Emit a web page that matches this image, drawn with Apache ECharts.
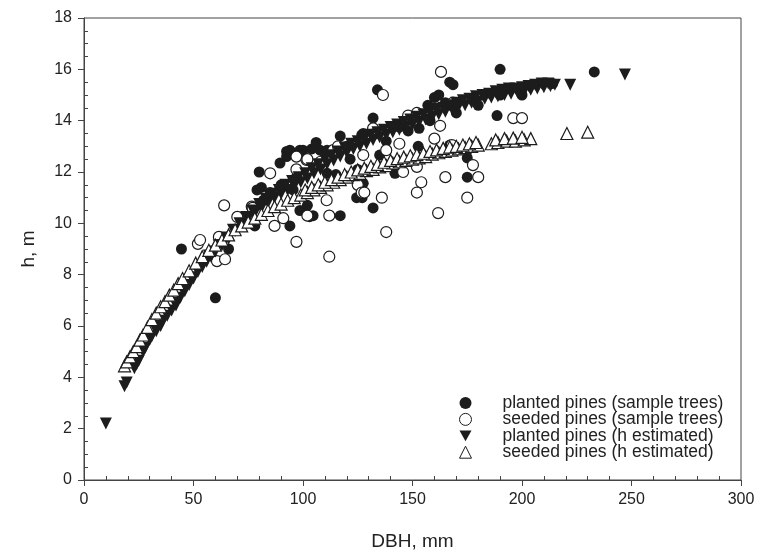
<!DOCTYPE html>
<html>
<head>
<meta charset="utf-8">
<script src="https://cdn.jsdelivr.net/npm/echarts@6/dist/echarts.min.js"></script>
<style>html,body{margin:0;padding:0;background:#fff}#c{width:759px;height:557px}</style>
</head>
<body>
<div id="c"></div>
<script>
var seriesNames = ['planted pines (sample trees)', 'seeded pines (sample trees)', 'planted pines (h estimated)', 'seeded pines (h estimated)'];
var xTicks = [0, 50, 100, 150, 200, 250, 300];
var yTicks = [0, 2, 4, 6, 8, 10, 12, 14, 16, 18];

var plantedSample = [
[44.5,9.0],[60,7.1],[66,9.0],[78,9.9],[80,12.0],[81,11.4],[79,11.3],[82,10.9],[89.5,12.35],[89.5,11.4],
[90,11.5],[92.5,12.8],[92.5,12.6],[94,12.85],[94,9.9],[95.5,11.3],[98.6,12.85],[98.6,10.5],[100,12.85],[102,10.7],
[103,10.26],[104,12.9],[104.6,10.3],[106,13.15],[107.8,12.85],[111,12.85],[111,11.95],[117,13.4],[117,10.3],[121.5,12.5],
[124.5,11.0],[125,12.1],[126.8,13.44],[127.5,13.5],[127.5,11.56],[127,11.0],[132,14.1],[132,10.6],[134,15.2],[135,12.66],
[142,11.95],[144,13.75],[152.6,13.0],[153,13.7],[160,14.9],[165,14.7],[167,15.5],[167,13.05],[168.5,15.4],[175,12.55],
[175,11.8],[188.6,14.2],[190,16.0],[190,15.0],[214,15.45],[233,15.9],[85,11.2],[97,11.8],[108,12.3],[115,11.9],
[120,13.0],[138,13.2],[148,13.6],[158,14.0],[170,14.3],[180,14.6],[200,15.0],[162,15.0],[157,14.6]
];
var seededSample = [
[52,9.2],[53,9.35],[61.6,9.47],[60.7,8.53],[64.4,8.6],[64,10.7],[70,10.25],[76.6,10.65],[77,10.6],[85,11.95],
[87,9.9],[91,10.2],[97,12.6],[97,12.1],[97,9.28],[101.6,12.47],[102,12.5],[102,10.3],[108,12.4],[110.8,10.9],
[112,10.3],[112,8.7],[113.8,12.85],[116,13.0],[125,11.5],[126.8,11.2],[127.5,12.66],[128,11.2],[132,13.7],[133,13.5],
[136,11.0],[136.5,15.0],[138,12.85],[138,9.66],[144,13.1],[145.7,12.0],[148,14.2],[152,14.3],[152,12.2],[152,11.2],
[154,11.6],[160,13.3],[161.7,10.4],[162.6,13.8],[163,15.9],[165,11.8],[168,13.05],[168.5,14.7],[175,11.0],[177.6,12.27],
[180,11.8],[196,14.1],[200,14.1]
];
var plantedEstimated = [
[10,2.2],[18.5,3.65],[19.5,3.8],[23,4.35],[24,4.5],[25,4.65],[27,5.0],[28,5.15],[30,5.45],[31,5.6],
[33,5.8],[35,6.0],[36,6.2],[38,6.4],[40,6.6],[42,6.8],[44,7.1],[46,7.35],[48,7.6],[50,7.85],
[52,8.1],[54,8.3],[56,8.5],[58,8.7],[60,8.9],[63,9.15],[66,9.4],[69,9.7],[72,9.95],[75,10.2],
[78,10.4],[81,10.6],[84,10.8],[87,11.0],[90,11.15],[93,11.3],[96,11.45],[99,11.6],[102,11.75],[105,11.95],
[108,12.1],[111,12.3],[114,12.45],[117,12.6],[120,12.75],[123,12.9],[126,13.0],[129,13.1],[132,13.25],[135,13.35],
[138,13.45],[141,13.55],[144,13.65],[147,13.75],[150,13.85],[153,13.95],[156,14.05],[159,14.15],[162,14.25],[165,14.35],
[168,14.45],[171,14.55],[174,14.6],[177,14.7],[180,14.75],[183,14.85],[186,14.9],[189,14.95],[192,15.0],[195,15.05],
[198,15.1],[201,15.15],[204,15.2],[207,15.25],[210,15.3],[213,15.35],[215,15.4],[222,15.4],[247,15.8],
[41.5,6.9],[45,7.4],[49,7.9],[53,8.35],[57,8.75],[61.5,9.15],[65,9.45],[68,9.75],[71,10.0],[74,10.25],
[77,10.5],[80,10.75],[83,10.95],[86,11.15],[89,11.3],[92,11.5],[95,11.65],[98,11.8],[101,11.95],[104,12.15],
[107,12.3],[110,12.5],[113,12.65],[116,12.8],[119,12.95],[122,13.1],[125,13.2],[128,13.3],[131,13.45],[134,13.55],
[137,13.65],[140,13.75],[143,13.85],[146,13.95],[149,14.05],[152,14.15],[155,14.25],[158,14.35],[161,14.45],[164,14.5],
[167,14.6],[170,14.7],[173,14.8],[176,14.85],[179,14.95],[182,15.0],[185,15.05],[188,15.15],[191,15.2],[194,15.25],
[197,15.25],[200,15.3],[203,15.35],[206,15.4],[209,15.45],[212,15.45]
];
var seededEstimated = [
[18.5,4.45],[19.5,4.6],[21,4.8],[22.5,5.0],[24,5.2],[25.5,5.45],[27,5.65],[29,5.95],[31,6.25],[33,6.5],
[35,6.75],[37,6.95],[39,7.2],[41,7.4],[43,7.65],[45,7.85],[48,8.15],[51,8.45],[54,8.7],[57,8.95],
[60,9.15],[63,9.35],[66,9.55],[69,9.75],[72,9.9],[75,10.05],[78,10.2],[81,10.35],[84,10.5],[87,10.65],
[90,10.75],[93,10.9],[96,11.0],[99,11.1],[102,11.2],[105,11.3],[108,11.4],[111,11.5],[114,11.6],[117,11.7],
[120,11.8],[123,11.9],[126,11.95],[129,12.05],[132,12.1],[135,12.2],[138,12.25],[141,12.35],[144,12.4],[147,12.45],
[150,12.5],[153,12.55],[156,12.6],[159,12.7],[162,12.75],[165,12.8],[168,12.85],[171,12.9],[174,12.95],[177,13.0],
[180,13.05],[186,13.1],[189,13.15],[193,13.2],[197,13.2],[201,13.25],[204,13.3],[220.5,13.5],[230,13.55],
[101,11.3],[104,11.4],[107,11.5],[110,11.6],[113,11.7],[116,11.8],[119,11.9],[122,12.0],[125,12.08],[128,12.15],
[131,12.22],[134,12.3],[137,12.38],[140,12.45],[143,12.52],[146,12.58],[149,12.63],[152,12.68],[155,12.73],[158,12.8],
[161,12.86],[164,12.92],[167,12.97],[170,13.0],[173,13.05],[176,13.1],[179,13.15],[188,13.25],[192,13.3],[196,13.32],[200,13.35]
];

var chart = echarts.init(document.getElementById('c'));
var FONT = 'Liberation Sans, Arial, sans-serif';
var ink = '#1c1c1c';
var xMin = xTicks[0], xMax = xTicks[xTicks.length - 1], xInt = xTicks[1] - xTicks[0];
var yMin = yTicks[0], yMax = yTicks[yTicks.length - 1], yInt = yTicks[1] - yTicks[0];
var downTri = 'path://M0,0 L10,0 L5,9 Z';

chart.setOption({
  animation: false,
  backgroundColor: '#fff',
  grid: { left: 84, right: 18, top: 18, bottom: 77, show: true, borderColor: '#444', borderWidth: 1 },
  legend: {
    orient: 'vertical', left: 454, top: 389,
    itemWidth: 12, itemHeight: 12, itemGap: -1.6,
    textStyle: { fontFamily: FONT, fontSize: 17.5, color: '#222', padding: [0, 0, 0, 26] },
    data: [
      { name: seriesNames[0], icon: 'circle', itemStyle: { borderWidth: 0 } },
      { name: seriesNames[1], icon: 'circle', itemStyle: { borderWidth: 1 } },
      { name: seriesNames[2], icon: downTri, itemStyle: { borderWidth: 0 } },
      { name: seriesNames[3], icon: 'triangle', itemStyle: { borderWidth: 1 } }
    ]
  },
  xAxis: [{
    type: 'value', min: xMin, max: xMax, interval: xInt,
    name: 'DBH, mm', nameLocation: 'middle', nameGap: 52,
    nameTextStyle: { fontFamily: FONT, fontSize: 19, color: '#222' },
    axisLine: { lineStyle: { color: '#444', width: 1 } },
    axisTick: { show: true, length: 6, lineStyle: { color: '#444' } },
    axisLabel: { fontFamily: FONT, fontSize: 16, color: '#222', margin: 12 },
    splitLine: { show: false }
  }, {
    type: 'value', min: xMin, max: xMax, interval: xInt, position: 'bottom',
    axisLine: { show: false }, axisLabel: { show: false },
    axisTick: { show: false, inside: true },
    minorTick: { show: true, splitNumber: 5, length: 4, lineStyle: { color: '#444' } },
    splitLine: { show: false }
  }],
  yAxis: [{
    type: 'value', min: yMin, max: yMax, interval: yInt,
    name: 'h, m', nameLocation: 'middle', nameGap: 46, nameRotate: 90,
    nameTextStyle: { fontFamily: FONT, fontSize: 19, color: '#222' },
    axisLine: { show: true, lineStyle: { color: '#444', width: 1 } },
    axisTick: { show: true, length: 6, lineStyle: { color: '#444' } },
    axisLabel: { fontFamily: FONT, fontSize: 16, color: '#222', margin: 12 },
    splitLine: { show: false }
  }, {
    type: 'value', min: yMin, max: yMax, interval: yInt, position: 'left',
    axisLine: { show: false }, axisLabel: { show: false },
    axisTick: { show: false, inside: true },
    minorTick: { show: true, splitNumber: 4, length: 4, lineStyle: { color: '#444' } },
    splitLine: { show: false }
  }],
  series: [{
    name: seriesNames[0], type: 'scatter', data: plantedSample,
    symbol: 'circle', symbolSize: 11,
    itemStyle: { color: ink, opacity: 1 }
  }, {
    name: seriesNames[1], type: 'scatter', data: seededSample,
    symbol: 'circle', symbolSize: 11,
    itemStyle: { color: '#fff', borderColor: ink, borderWidth: 1.2, opacity: 1 }
  }, {
    name: seriesNames[2], type: 'scatter', data: plantedEstimated,
    symbol: 'triangle', symbolRotate: 180, symbolSize: 12,
    itemStyle: { color: ink, opacity: 1 }
  }, {
    name: seriesNames[3], type: 'scatter', data: seededEstimated,
    symbol: 'triangle', symbolSize: 12,
    itemStyle: { color: '#fff', borderColor: ink, borderWidth: 1.2, opacity: 1 }
  }]
});
</script>
</body>
</html>
